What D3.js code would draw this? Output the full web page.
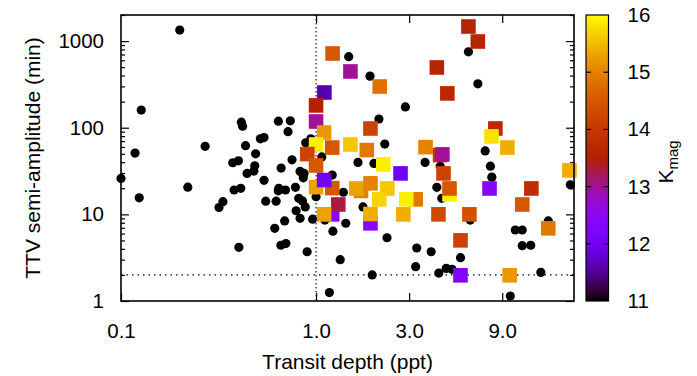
<!DOCTYPE html>
<html>
<head>
<meta charset="utf-8">
<script src="https://cdn.jsdelivr.net/npm/d3@7"></script>
<style>
  body { margin: 0; background: #fff; }
  text { font-family: "Liberation Sans", Arial, Helvetica, sans-serif; }
</style>
</head>
<body>
<div id="chart"></div>
<script>
// black dots: transit depth (ppt) and TTV semi-amplitude (min)
var dotDepth = [0.20, 0.127, 0.118, 0.27, 0.414, 0.42, 0.10, 0.435, 0.49, 0.518, 0.541, 0.641, 0.738, 0.718,
  0.374, 0.40, 0.485, 0.48, 0.443, 0.541, 0.662, 0.753, 0.828, 0.868, 0.885, 0.86, 1.07, 0.94,
  0.124, 0.22, 0.318, 0.333, 0.38, 0.411, 0.402, 0.644, 0.64, 0.697, 0.784, 0.552, 0.624, 0.815,
  0.852, 0.88, 0.79, 0.69, 0.828, 0.96, 0.614, 0.66, 0.70, 0.90, 1.0, 1.11, 1.22, 1.42, 1.33,
  1.17, 1.38, 1.64, 1.21, 1.74, 1.47, 1.89, 6.04, 6.75, 2.87, 2.10, 2.25, 7.36, 1.98, 3.62, 4.33,
  7.83, 7.96, 20.1, 4.16, 4.41, 2.31, 1.94, 3.28, 3.89, 3.24, 4.26, 4.65, 4.98, 5.50, 6.17, 10.5,
  11.4, 11.4, 12.6, 14.2, 9.9, 15.5];
var dotTTV = [1340, 160, 51, 61, 116, 104, 26, 62, 50, 74.5, 77, 119, 120, 90,
  39.4, 41.5, 36.3, 31.6, 29.7, 24.7, 34.2, 42.6, 31.3, 29.7, 67, 26.4, 46, 74.5,
  15.5, 20.6, 12.0, 14.0, 19.1, 20, 4.16, 20, 18.7, 19.1, 20.5, 14.2, 14.2, 15.3,
  14.3, 12.2, 11.0, 8.4, 9.0, 8.8, 6.9, 4.4, 4.6, 3.7, 16, 8.6, 6.4, 7.9, 3.0,
  1.25, 18, 39.8, 28.4, 12.2, 660, 394, 751, 321, 174, 126, 64.7, 54, 38.7, 39.8, 36,
  36, 26.9, 21.9, 20.5, 15.3, 5.37, 2.0, 4.09, 3.7, 2.49, 2.1, 2.38, 2.32, 3.16, 8.6, 6.6,
  6.6, 4.35, 4.4, 2.14, 1.14, 8.4];

// coloured squares: depth, TTV and K magnitude
var sqDepth = [1.215, 1.50, 1.103, 1.0, 1.0, 1.10, 1.0, 1.21, 1.50, 0.902, 1.0, 1.0, 1.21, 1.10,
  1.21, 1.30, 1.10, 2.12, 6.04, 6.75, 4.16, 4.71, 1.90, 8.3, 7.93, 9.57, 1.82, 3.64, 4.32, 4.44,
  2.21, 2.71, 4.50, 7.75, 12.7, 19.9, 1.70, 1.61, 1.90, 2.32, 2.11, 3.24, 2.90, 1.90, 1.90, 2.80,
  4.24, 6.11, 5.50, 5.50, 4.83, 4.83, 11.4, 15.5, 9.83];
var sqTTV = [719, 446, 255, 181, 118, 88, 64, 59, 64, 49.6, 36.7, 20.6, 20.1, 24.9,
  10.0, 13.0, 10.0, 299, 1473, 989, 496, 249, 98, 98, 79.4, 59, 55.2, 59.7, 48.3, 49.2,
  37.7, 29.7, 29.7, 19.9, 19.9, 32.2, 18.6, 19.9, 22.8, 19.9, 14.9, 14.9, 14.9, 7.88, 10.1, 10.0,
  10.0, 10.0, 5.01, 1.98, 17.0, 19.9, 13.0, 6.9, 1.98];
var sqKmag = [14.5, 13.0, 11.6, 13.5, 13.0, 15.2, 15.9, 14.5, 15.6, 14.2, 14.5, 15.3, 14.5, 12.0,
  12.4, 13.3, 15.3, 14.8, 13.6, 13.6, 13.6, 13.7, 14.2, 13.7, 15.8, 15.4, 14.9, 15.0, 14.0, 13.0,
  15.9, 12.0, 14.2, 12.4, 13.8, 15.4, 15.0, 15.3, 15.0, 15.6, 15.7, 14.9, 15.9, 12.4, 15.4, 15.4,
  14.3, 14.4, 14.2, 12.3, 15.9, 14.5, 14.5, 14.9, 15.2];

var xTicks = [0.1, 1, 3, 9];
var xTickLabels = ["0.1", "1.0", "3.0", "9.0"];
var yTicks = [1, 10, 100, 1000];
var cbTicks = [11, 12, 13, 14, 15, 16];

var svgWidth = 697, svgHeight = 376;
var margin = { top: 15, left: 121 };
var width = 453, height = 286;

var svg = d3.select("#chart").append("svg")
  .attr("width", svgWidth)
  .attr("height", svgHeight);

var chart = svg.append("g")
  .attr("transform", `translate(${margin.left}, ${margin.top})`);

var x = d3.scaleLog().domain([0.1, 21]).range([0, width]);
var y = d3.scaleLog().domain([1, 2000]).range([height, 0]);
var kScale = d3.scaleLinear().domain([11, 16]).range([height, 0]);

// gnuplot default palette (rgbformulae 7,5,15)
function palette(k) {
  var g = Math.max(0, Math.min(1, (k - 11) / 5));
  var r = Math.sqrt(g), gr = g * g * g, b = Math.max(0, Math.sin(2 * Math.PI * g));
  return d3.rgb(r * 255, gr * 255, b * 255).formatHex();
}

var fontSize = 20.5;

// minor log ticks on y
var yMinor = [];
[1, 10, 100, 1000].forEach(function(d) {
  for (var i = 2; i <= 9; i++) if (d * i <= 2000) yMinor.push(d * i);
});

function clean(g) { g.select(".domain").remove(); g.selectAll("line").attr("stroke", "#000").attr("stroke-width", 1.2); }

chart.append("g")
  .attr("transform", `translate(0, ${height})`)
  .call(d3.axisBottom(x).tickValues(xTicks).tickFormat((d, i) => xTickLabels[i]).tickSize(-8).tickPadding(22))
  .call(clean)
  .selectAll("text").attr("font-size", fontSize).attr("fill", "#000")
  .attr("font-family", '"Liberation Sans", Arial, sans-serif');

chart.append("g")
  .call(d3.axisTop(x).tickValues(xTicks.slice(1)).tickFormat("").tickSize(-8))
  .call(clean);

chart.append("g")
  .call(d3.axisLeft(y).tickValues(yTicks).tickFormat(d3.format("d")).tickSize(-8).tickPadding(17))
  .call(clean)
  .selectAll("text").attr("font-size", fontSize).attr("fill", "#000")
  .attr("font-family", '"Liberation Sans", Arial, sans-serif');

chart.append("g")
  .call(d3.axisLeft(y).tickValues(yMinor).tickFormat("").tickSize(-4))
  .call(clean);

chart.append("g")
  .attr("transform", `translate(${width}, 0)`)
  .call(d3.axisRight(y).tickValues(yTicks).tickFormat("").tickSize(-8))
  .call(clean);

chart.append("g")
  .attr("transform", `translate(${width}, 0)`)
  .call(d3.axisRight(y).tickValues(yMinor).tickFormat("").tickSize(-4))
  .call(clean);

// dotted reference lines
chart.append("line")
  .attr("x1", x(1)).attr("x2", x(1))
  .attr("y1", 0).attr("y2", height)
  .attr("stroke", "#000").attr("stroke-width", 1.1)
  .attr("stroke-dasharray", "1.5,2.5");

chart.append("line")
  .attr("x1", 0).attr("x2", width)
  .attr("y1", y(2)).attr("y2", y(2))
  .attr("stroke", "#000").attr("stroke-width", 1.1)
  .attr("stroke-dasharray", "1.5,4");

// black circles
chart.selectAll("circle")
  .data(dotDepth)
  .enter()
  .append("circle")
  .attr("cx", d => x(d))
  .attr("cy", (d, i) => y(dotTTV[i]))
  .attr("r", 4.6)
  .attr("fill", "#000");

// coloured squares
var sq = 14.6;
chart.selectAll("rect.sq")
  .data(sqDepth)
  .enter()
  .append("rect")
  .attr("class", "sq")
  .attr("x", d => x(d) - sq / 2)
  .attr("y", (d, i) => y(sqTTV[i]) - sq / 2)
  .attr("width", sq)
  .attr("height", sq)
  .attr("fill", (d, i) => palette(sqKmag[i]));

// frame
chart.append("rect")
  .attr("width", width).attr("height", height)
  .attr("fill", "none").attr("stroke", "#000").attr("stroke-width", 1.6);

// axis titles
svg.append("text")
  .attr("transform", `translate(${margin.left + width / 2}, 369)`)
  .attr("text-anchor", "middle")
  .attr("font-size", 21)
  .text("Transit depth (ppt)");

svg.append("text")
  .attr("transform", `translate(40, ${margin.top + height / 2}) rotate(-90)`)
  .attr("text-anchor", "middle")
  .attr("font-size", 21)
  .text("TTV semi-amplitude (min)");

// colour bar
var cbX = 586, cbW = 22.5;
var defs = svg.append("defs");
var grad = defs.append("linearGradient")
  .attr("id", "cbgrad")
  .attr("x1", 0).attr("y1", 1).attr("x2", 0).attr("y2", 0);
d3.range(0, 1.0001, 0.02).forEach(function(t) {
  grad.append("stop").attr("offset", t).attr("stop-color", palette(11 + 5 * t));
});

var cb = svg.append("g").attr("transform", `translate(${cbX}, ${margin.top})`);
cb.append("rect")
  .attr("width", cbW).attr("height", height)
  .attr("fill", "url(#cbgrad)")
  .attr("stroke", "#000").attr("stroke-width", 1.2);

cb.selectAll("line.cbl")
  .data(cbTicks.slice(1, -1))
  .enter().append("line")
  .attr("x1", 0).attr("x2", 5)
  .attr("y1", d => kScale(d)).attr("y2", d => kScale(d))
  .attr("stroke", "#000").attr("stroke-width", 1.2);
cb.selectAll("line.cbr")
  .data(cbTicks.slice(1, -1))
  .enter().append("line")
  .attr("x1", cbW - 5).attr("x2", cbW)
  .attr("y1", d => kScale(d)).attr("y2", d => kScale(d))
  .attr("stroke", "#000").attr("stroke-width", 1.2);

cb.append("g")
  .attr("transform", `translate(${cbW}, 0)`)
  .call(d3.axisRight(kScale).tickValues(cbTicks).tickFormat(d3.format("d")).tickSize(0).tickPadding(19))
  .call(g => g.select(".domain").remove())
  .selectAll("text").attr("font-size", fontSize).attr("fill", "#000")
  .attr("font-family", '"Liberation Sans", Arial, sans-serif');

var kLabel = svg.append("text")
  .attr("transform", `translate(673, ${margin.top + height / 2 + 4}) rotate(-90)`)
  .attr("text-anchor", "middle")
  .attr("font-size", 21);
kLabel.append("tspan").text("K");
kLabel.append("tspan").attr("dy", 5).attr("font-size", 15).text("mag");
</script>
</body>
</html>
